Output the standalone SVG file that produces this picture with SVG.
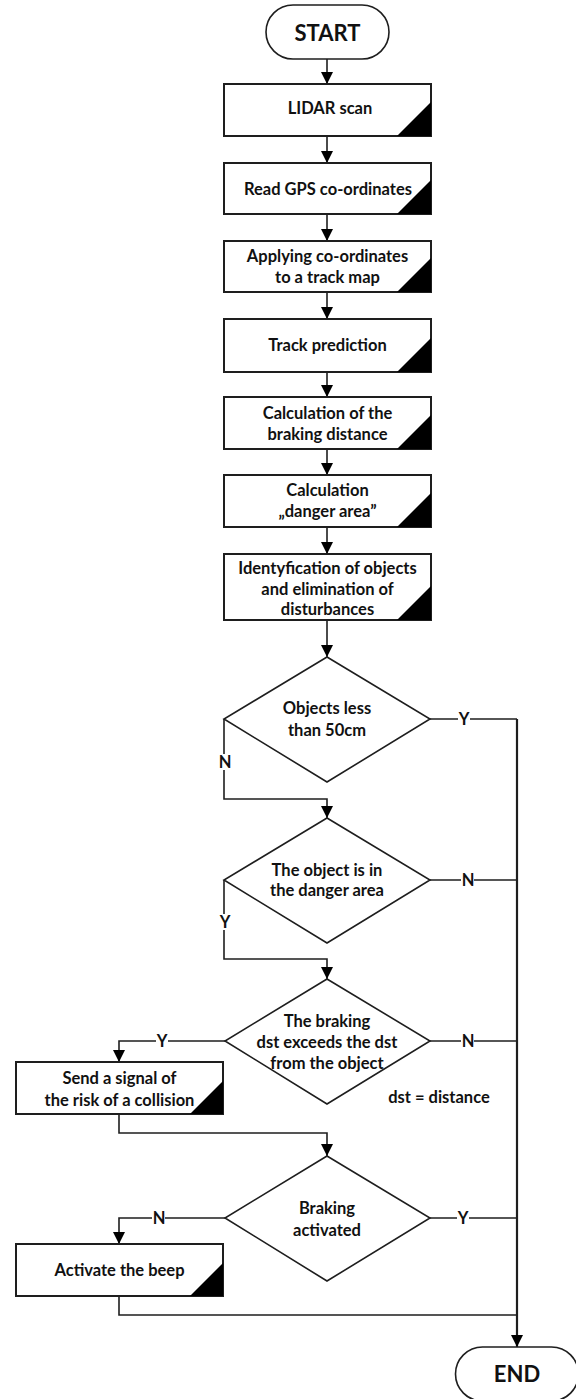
<svg xmlns="http://www.w3.org/2000/svg" width="576" height="1399" viewBox="0 0 576 1399">
<style>
.box{fill:#fff;stroke:#1e1e1e;stroke-width:2}
.dia{fill:#fff;stroke:#1e1e1e;stroke-width:1.6}
.tri{fill:#000}
.t{font-family:Lato,"Open Sans",sans-serif;font-weight:bold;font-size:16.5px;fill:#111;text-anchor:middle}
.big{font-size:22px}
.ln{fill:none;stroke:#1e1e1e;stroke-width:1.6}
.main{fill:none;stroke:#1e1e1e;stroke-width:2.2}
.lb{fill:#fff}
</style>
<defs>
<marker id="ah" viewBox="0 0 12 12" refX="12" refY="6" markerWidth="12" markerHeight="12" markerUnits="userSpaceOnUse" orient="auto">
<path d="M0,0 L12,6 L0,12 Z" fill="#000"/>
</marker>
</defs>
<g id="connectors">
<line class="ln" x1="327" y1="59" x2="327" y2="84" marker-end="url(#ah)"/>
<line class="ln" x1="327" y1="136" x2="327" y2="163" marker-end="url(#ah)"/>
<line class="ln" x1="327" y1="214" x2="327" y2="241" marker-end="url(#ah)"/>
<line class="ln" x1="327" y1="292" x2="327" y2="319" marker-end="url(#ah)"/>
<line class="ln" x1="327" y1="372" x2="327" y2="397" marker-end="url(#ah)"/>
<line class="ln" x1="327" y1="449" x2="327" y2="475" marker-end="url(#ah)"/>
<line class="ln" x1="327" y1="527" x2="327" y2="554" marker-end="url(#ah)"/>
<line class="ln" x1="327" y1="620" x2="327" y2="657" marker-end="url(#ah)"/>
<polyline class="ln" points="430,719 517,719"/>
<line class="main" x1="517" y1="719" x2="517" y2="1347" marker-end="url(#ah)"/>
<polyline class="ln" points="224,719 224,799 327,799 327,818" marker-end="url(#ah)"/>
<polyline class="ln" points="430,880 517,880"/>
<polyline class="ln" points="224,880 224,959 327,959 327,979" marker-end="url(#ah)"/>
<polyline class="ln" points="430,1041 517,1041"/>
<polyline class="ln" points="225,1041 119,1041 119,1062" marker-end="url(#ah)"/>
<polyline class="ln" points="119,1114 119,1133 327,1133 327,1156" marker-end="url(#ah)"/>
<polyline class="ln" points="430,1218 517,1218"/>
<polyline class="ln" points="225,1218 119,1218 119,1244" marker-end="url(#ah)"/>
<polyline class="ln" points="119,1296 119,1315 517,1315"/>
<rect class="lb" x="458" y="711" width="12" height="16"/>
<text class="t" x="464" y="725">Y</text>
<rect class="lb" x="218" y="754" width="13" height="16"/>
<text class="t" x="225" y="768">N</text>
<rect class="lb" x="461" y="872" width="13" height="16"/>
<text class="t" x="468" y="886">N</text>
<rect class="lb" x="219" y="914" width="12" height="16"/>
<text class="t" x="225" y="928">Y</text>
<rect class="lb" x="156" y="1033" width="12" height="16"/>
<text class="t" x="162" y="1047">Y</text>
<rect class="lb" x="461" y="1033" width="13" height="16"/>
<text class="t" x="468" y="1047">N</text>
<rect class="lb" x="152" y="1210" width="13" height="16"/>
<text class="t" x="159" y="1224">N</text>
<rect class="lb" x="457" y="1210" width="12" height="16"/>
<text class="t" x="463" y="1224">Y</text>
</g>
<g id="start">
<rect class="box" x="266" y="5" width="123" height="54" rx="27" ry="27" style="stroke-width:1.6"/>
<text class="t big" x="327.5" y="41">START</text>
</g>
<g id="lidar">
<rect class="box" x="224" y="84" width="207" height="52"/>
<polygon class="tri" points="397,136 431,136 431,102"/>
<text class="t" x="330" y="114">LIDAR scan</text>
</g>
<g id="gps">
<rect class="box" x="224" y="163" width="207" height="51"/>
<polygon class="tri" points="397,214 431,214 431,180"/>
<text class="t" x="328" y="195">Read GPS co-ordinates</text>
</g>
<g id="apply">
<rect class="box" x="224" y="241" width="207" height="51"/>
<polygon class="tri" points="397,292 431,292 431,258"/>
<text class="t" x="327.5" y="262">Applying co-ordinates</text>
<text class="t" x="327.5" y="283">to a track map</text>
</g>
<g id="track">
<rect class="box" x="224" y="319" width="207" height="53"/>
<polygon class="tri" points="397,372 431,372 431,338"/>
<text class="t" x="327.5" y="351">Track prediction</text>
</g>
<g id="brakingdist">
<rect class="box" x="224" y="397" width="207" height="52"/>
<polygon class="tri" points="397,449 431,449 431,415"/>
<text class="t" x="327.5" y="419">Calculation of the</text>
<text class="t" x="327.5" y="440">braking distance</text>
</g>
<g id="danger">
<rect class="box" x="224" y="475" width="207" height="52"/>
<polygon class="tri" points="397,527 431,527 431,493"/>
<text class="t" x="327.5" y="496">Calculation</text>
<text class="t" x="327.5" y="517">„danger area”</text>
</g>
<g id="ident">
<rect class="box" x="224" y="554" width="207" height="66"/>
<polygon class="tri" points="397,620 431,620 431,586"/>
<text class="t" x="327.5" y="574">Identyfication of objects</text>
<text class="t" x="327.5" y="595">and elimination of</text>
<text class="t" x="327.5" y="615">disturbances</text>
</g>
<g id="d1">
<polygon class="dia" points="327,657 430,719 327,782 224,719"/>
<text class="t" x="327" y="714">Objects less</text>
<text class="t" x="327" y="736">than 50cm</text>
</g>
<g id="d2">
<polygon class="dia" points="327,818 430,880 327,943 224,880"/>
<text class="t" x="327" y="876">The object is in</text>
<text class="t" x="327" y="896">the danger area</text>
</g>
<g id="d3">
<polygon class="dia" points="327,979 430,1041 327,1104 225,1041"/>
<text class="t" x="327" y="1027">The braking</text>
<text class="t" x="327" y="1048">dst exceeds the dst</text>
<text class="t" x="327" y="1069">from the object</text>
</g>
<g id="note">
<text class="t" x="439" y="1103">dst = distance</text>
</g>
<g id="signal">
<rect class="box" x="16" y="1062" width="207" height="52"/>
<polygon class="tri" points="190,1114 223,1114 223,1081"/>
<text class="t" x="119.5" y="1084">Send a signal of</text>
<text class="t" x="119.5" y="1106">the risk of a collision</text>
</g>
<g id="d4">
<polygon class="dia" points="327,1156 430,1218 327,1281 225,1218"/>
<text class="t" x="327" y="1214">Braking</text>
<text class="t" x="327" y="1236">activated</text>
</g>
<g id="beep">
<rect class="box" x="16" y="1244" width="207" height="52"/>
<polygon class="tri" points="190,1296 223,1296 223,1263"/>
<text class="t" x="119.5" y="1276">Activate the beep</text>
</g>
<g id="end">
<rect class="box" x="455.5" y="1347" width="123" height="54" rx="27" ry="27" style="stroke-width:1.6"/>
<text class="t big" x="517" y="1382">END</text>
</g>
</svg>
